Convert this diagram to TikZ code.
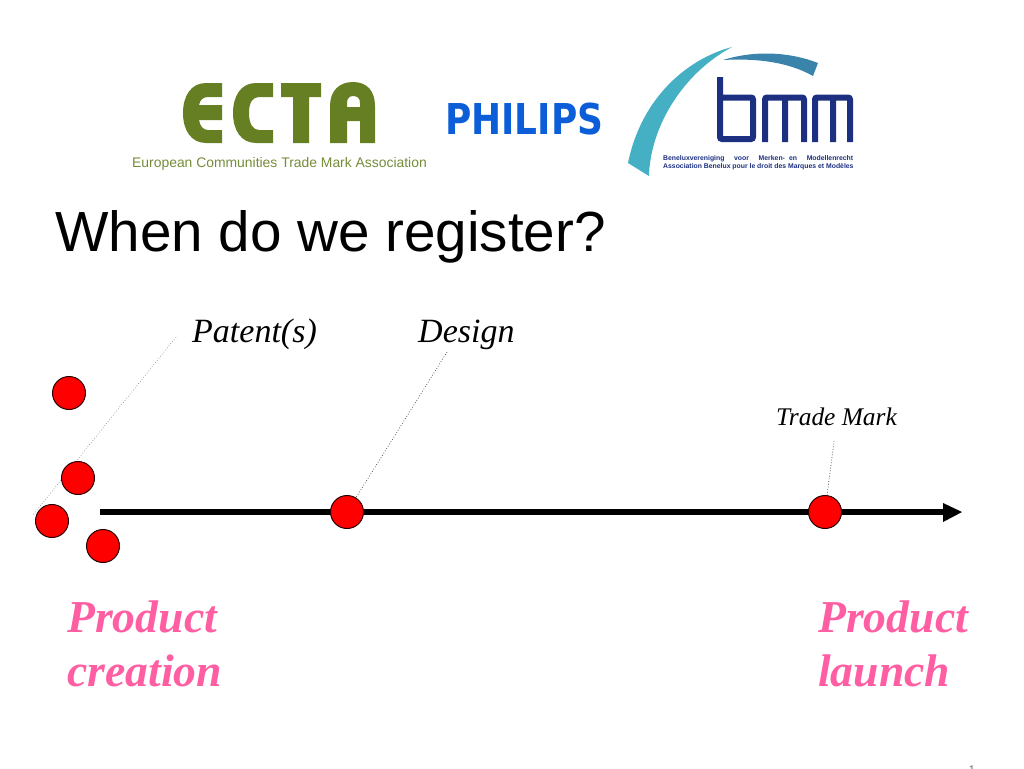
\documentclass[tikz,border=0pt]{standalone}
\usepackage{fontspec}
\setmainfont{Liberation Serif}
\setsansfont{Liberation Sans}
\newfontfamily\philfont{DejaVu Sans}
\definecolor{ectagreen}{HTML}{667F23}
\definecolor{philblue}{HTML}{0B5ED7}
\definecolor{bmmnavy}{HTML}{1C2F80}
\definecolor{bmmteal}{HTML}{45AFC4}
\definecolor{bmmsteel}{HTML}{3A84AC}
\definecolor{pinktext}{HTML}{FF5FA2}
\tikzset{
  dot/.style={circle,draw=black!85!red,fill=red,line width=1pt,minimum size=33pt,inner sep=0pt},
  leader/.style={draw=black!80,line width=0.7pt,dotted,line cap=butt},
  ipa/.style={font=\fontsize{34}{38}\selectfont\itshape,anchor=base west,inner sep=0pt},
  stage/.style={font=\fontsize{45.7}{54}\selectfont\bfseries\itshape,text=pinktext,anchor=base west,inner sep=0pt,align=left},
  bmmtext/.style={font=\sffamily\bfseries\fontsize{6.85}{8}\selectfont,text=bmmnavy,anchor=base west,inner sep=0pt},
}
\begin{document}
\begin{tikzpicture}[x=1pt,y=-1pt]
\useasboundingbox (0,0) rectangle (1024,768);
% ECTA logo
\fill[ectagreen] (222,83) -- (206,83) .. controls (191,83) and (183,96) .. (183,113) .. controls (183,130) and (191,143) .. (206,143) -- (222,143) -- (222,130) -- (208,130) .. controls (203,130) and (200,126) .. (199,120) -- (222,120) -- (222,105) -- (199,105) .. controls (200,100) and (203,97) .. (208,97) -- (222,97) -- cycle;
\fill[ectagreen] (273,83) -- (256,83) .. controls (241,83) and (233,96) .. (233,113) .. controls (233,130) and (241,143) .. (256,143) -- (273,143) -- (273,130) -- (259,130) .. controls (253,130) and (249,124) .. (249,113) .. controls (249,102) and (253,97) .. (259,97) -- (273,97) -- cycle;
\fill[ectagreen] (281,83) -- (321,83) -- (321,97) -- (309,97) -- (309,143) -- (293,143) -- (293,97) -- (281,97) -- cycle;
\fill[ectagreen] (330,143) -- (330,106) .. controls (330,91) and (339,82) .. (353,82) .. controls (367,82) and (375,91) .. (375,106) -- (375,143) -- (360,143) -- (360,121) -- (347,121) -- (347,143) -- cycle
 (347,107) -- (360,107) -- (360,103) .. controls (360,98) and (357,96) .. (353,96) .. controls (349,96) and (347,99) .. (347,103) -- cycle;
\node[font=\sffamily\fontsize{13.9}{16}\selectfont,text=ectagreen!90!white,anchor=base west,inner sep=0pt] (ectaname) at (132,167) {European Communities Trade Mark Association};
% Philips logo
\node[font=\philfont\bfseries\fontsize{42.5}{44}\selectfont,text=philblue,anchor=base west,inner sep=0pt,xscale=0.845] (philips) at (445,134) {PHILIPS};
% bmm logo
\fill[bmmteal] (732,47) .. controls (690,58) and (642,95) .. (628,163) -- (649,176) .. controls (650,130) and (680,75) .. (732,47) -- cycle;
\fill[bmmsteel] (723,60) .. controls (755,50) and (790,52) .. (818,63) -- (813,76) .. controls (790,63) and (760,58) .. (723,60) -- cycle;
\draw[bmmnavy,line width=6pt,rounded corners=2pt] (720,77) -- (720,139) -- (753,139) -- (753,97.5) -- (720,97.5);
\draw[bmmnavy,line width=6pt,rounded corners=2pt] (765,142) -- (765,97.5) -- (804,97.5) -- (804,142) (785,97.5) -- (785,142);
\draw[bmmnavy,line width=6pt,rounded corners=2pt] (815,142) -- (815,97.5) -- (850,97.5) -- (850,142) (833,97.5) -- (833,142);
\node[bmmtext] (bmmnl) at (663,160) {\hbox to 190pt{Beneluxvereniging\hfill voor\hfill Merken-\hspace{0.6em}en\hfill Modellenrecht}};
\node[bmmtext] (bmmfr) at (663,168) {Association Benelux pour le droit des Marques et Modèles};
% Title
\node[font=\sffamily\fontsize{56.6}{60}\selectfont,anchor=base west,inner sep=0pt] (title) at (55,251) {When do we register?};
% Labels
\node[ipa] (patent) at (192,342) {Patent(s)};
\node[ipa] (design) at (418,342) {Design};
\node[ipa,font=\fontsize{25.4}{28}\selectfont\itshape] (tm) at (776,425) {Trade Mark};
% Timeline
\coordinate (tlstart) at (100,512);
\coordinate (tlend) at (962,512);
\draw[black,line width=6pt] (tlstart) -- (945,512);
\fill[black] (tlend) -- (943,503) -- (943,522) -- cycle;
% Leaders
\coordinate (patfrom) at (176,337);
\coordinate (patto) at (33,515);
\coordinate (desfrom) at (447,352);
\coordinate (tmfrom) at (834,441);
\draw[leader,draw=black!45] (patfrom) -- (patto);
% Dots
\node[dot] (d1) at (69,393) {};
\node[dot] (d2) at (78,478) {};
\node[dot] (d3) at (52,521) {};
\node[dot] (d4) at (103,546) {};
\node[dot] (d5) at (347,512) {};
\node[dot] (d6) at (825,512) {};
\draw[leader] (desfrom) -- (d5);
\draw[leader] (tmfrom) -- (d6);
% Stages
\node[stage] (creation) at (67,686) {Product\\creation};
\node[stage] (launch) at (818,686) {Product\\launch};
% Page number clipped at the edge
\begin{scope}
\clip (0,0) rectangle (1024,768);
\node[font=\sffamily\fontsize{11}{12}\selectfont,text=black!60,anchor=base,inner sep=0pt] (pageno) at (972,773) {1};
\end{scope}
\end{tikzpicture}
\end{document}
